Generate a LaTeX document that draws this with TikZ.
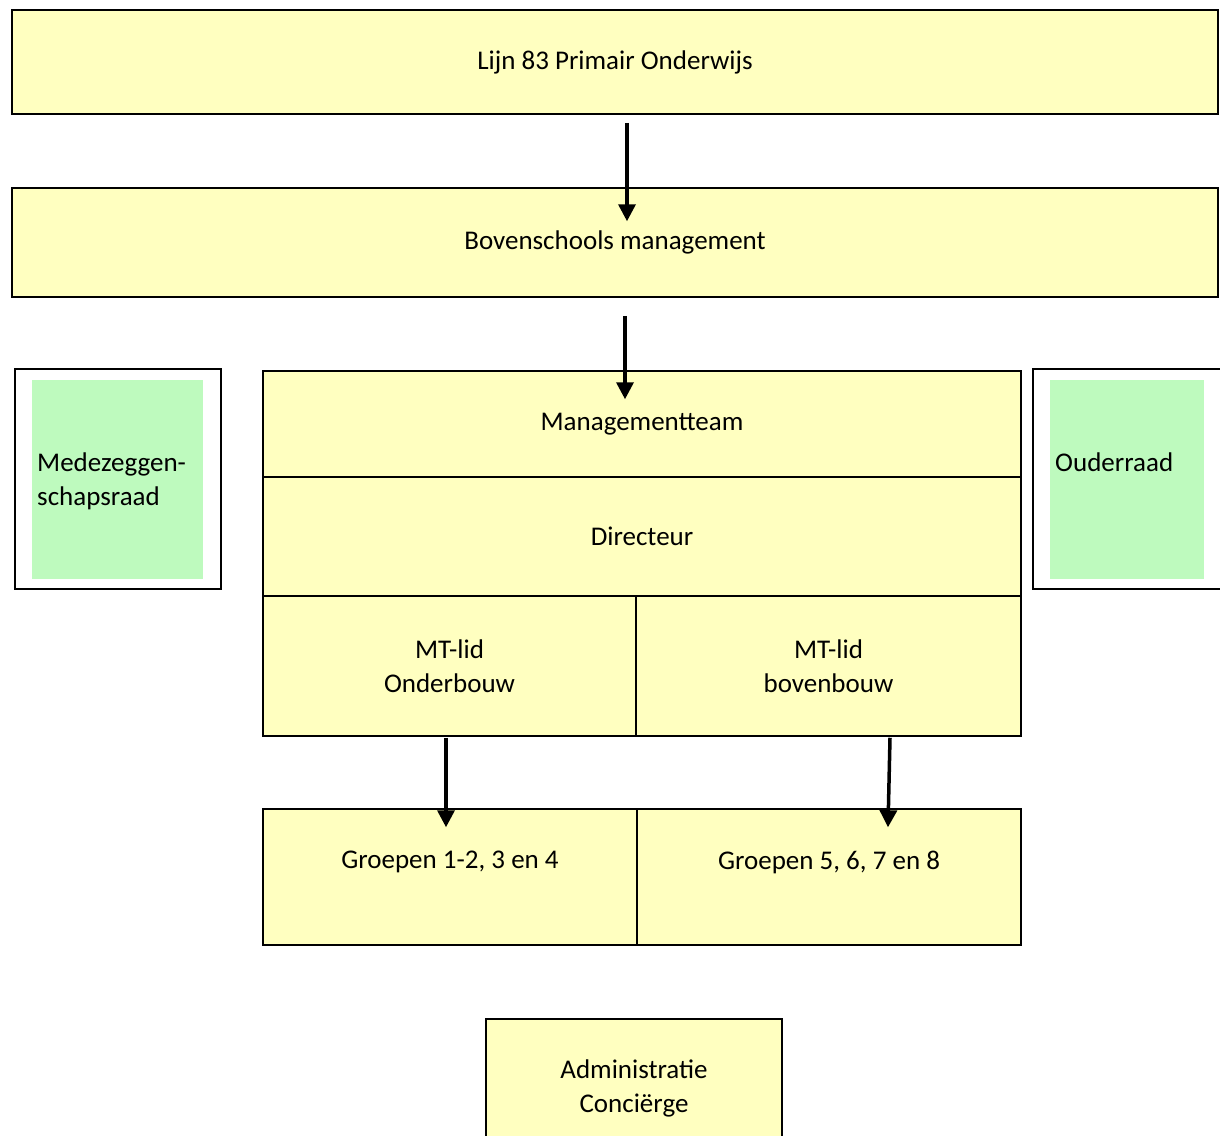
\documentclass[tikz,border=0pt]{standalone}
\usepackage{fontspec}
\setmainfont{Carlito}
\usetikzlibrary{arrows.meta,positioning}
\definecolor{boxyellow}{RGB}{255,255,192}
\definecolor{boxgreen}{RGB}{190,250,190}
\begin{document}
\begin{tikzpicture}[x=1pt,y=-1pt,
    every node/.style={font=\fontsize{27}{34}\selectfont},
    cell/.style={draw,line width=1.5pt,fill=boxyellow,inner sep=0pt,align=center},
    frame/.style={draw,line width=1.5pt,fill=white,inner sep=0pt},
    pane/.style={fill=boxgreen,inner sep=0pt},
    lbl/.style={inner sep=0pt,align=center},
    arr/.style={line width=3.5pt,-{Triangle[width=17pt,length=17pt]}}]
    \useasboundingbox (0,0) rectangle (1220,1135);

    \node[cell,minimum width=1206pt,minimum height=104pt] (lijn) at (615,62) {Lijn 83 Primair Onderwijs};
    \node[cell,minimum width=1206pt,minimum height=109pt] (boven) at (615,242.5) {Bovenschools management};

    \node[cell,minimum width=758pt,minimum height=106pt] (mt) at (642,424) {Managementteam};
    \node[cell,minimum width=758pt,minimum height=119pt] (dir) at (642,536.5) {Directeur};
    \node[cell,minimum width=373pt,minimum height=140pt] (mtl) at (449.5,666) {MT-lid\\Onderbouw};
    \node[cell,minimum width=385pt,minimum height=140pt] (mtr) at (828.5,666) {MT-lid\\bovenbouw};

    \node[cell,minimum width=374pt,minimum height=136pt] (grl) at (450,877) {};
    \node[lbl] (grltext) at ([yshift=15pt]grl.center) {Groepen 1-2, 3 en 4};
    \node[cell,minimum width=384pt,minimum height=136pt] (grr) at (829,877) {};
    \node[lbl] (grrtext) at ([yshift=15pt]grr.center) {Groepen 5, 6, 7 en 8};

    \node[frame,minimum width=206pt,minimum height=220pt] (mrframe) at (118,479) {};
    \node[pane,minimum width=171pt,minimum height=199pt] (mr) at (117.5,479.5) {};
    \node[lbl,align=left,anchor=west] (mrtext) at (37,481) {Medezeggen-\\schapsraad};

    \node[frame,minimum width=197pt,minimum height=220pt] (orframe) at (1131.5,479) {};
    \node[pane,minimum width=154pt,minimum height=199pt] (or) at (1127,479.5) {};
    \node[lbl,anchor=west] (ortext) at (1055,462) {Ouderraad};

    \node[cell,minimum width=296pt,minimum height=138pt] (admin) at (634,1088) {Administratie\\Conciërge};

    \draw[arr] ([xshift=12pt,yshift=-8pt]lijn.south) -- ([xshift=12pt,yshift=-34pt]boven.north);
    \draw[arr] ([xshift=10pt,yshift=-18pt]boven.south) -- ([xshift=-17pt,yshift=-29pt]mt.north);
    \draw[arr] ([xshift=-3.5pt,yshift=-1pt]mtl.south) -- ([xshift=-4pt,yshift=-19pt]grl.north);
    \draw[arr] ([xshift=61.5pt,yshift=-1pt]mtr.south) -- ([xshift=59pt,yshift=-19pt]grr.north);
\end{tikzpicture}
\end{document}
